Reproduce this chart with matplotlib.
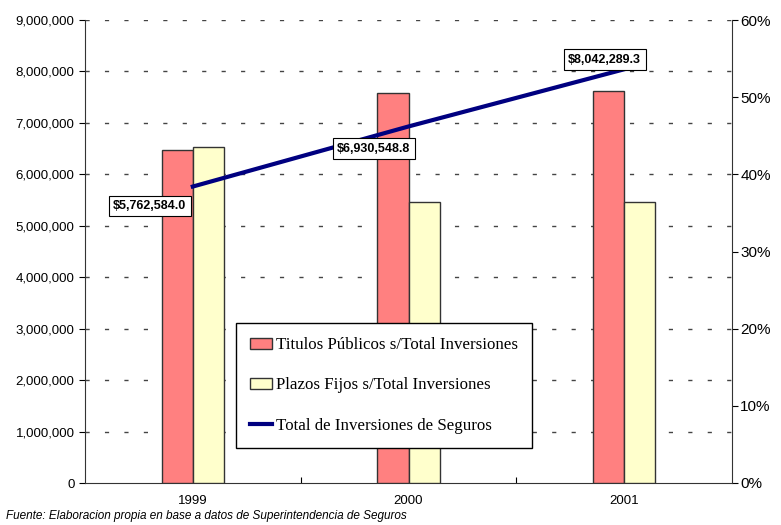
import matplotlib
matplotlib.use("Agg")
import matplotlib.pyplot as plt
import numpy as np
from matplotlib.patches import Patch
from matplotlib.lines import Line2D
from matplotlib.ticker import FuncFormatter

years = ["1999", "2000", "2001"]
titulos_pct = [43.2, 50.6, 50.8]
plazos_pct = [43.6, 36.4, 36.4]
total_inversiones = [5762584.0, 6930548.8, 8042289.3]

RED = "#FF8080"
YELLOW = "#FFFFCC"
NAVY = "#000080"
SANS = "Liberation Sans"
SERIF = "Liberation Serif"

fig = plt.figure(figsize=(7.81, 5.25), dpi=100)
rect = [0.1088, 0.080, 0.8285, 0.8819]

# bars on the percentage (right) axis
ax_bar = fig.add_axes(rect)
x = np.arange(len(years))
w = 0.145
ax_bar.bar(x - w / 2, titulos_pct, w, color=RED, edgecolor="#333333",
           linewidth=1, zorder=3)
ax_bar.bar(x + w / 2, plazos_pct, w, color=YELLOW, edgecolor="#333333",
           linewidth=1, zorder=3)
ax_bar.set_ylim(0, 60)
ax_bar.set_xlim(-0.5, 2.5)
ax_bar.yaxis.tick_right()
ax_bar.set_yticks(np.arange(0, 61, 10))
ax_bar.yaxis.set_major_formatter(FuncFormatter(lambda v, p: f"{v:.0f}%"))
ax_bar.tick_params(axis="y", labelsize=11, length=4, direction="out",
                   pad=2)
for lab in ax_bar.get_yticklabels():
    lab.set_family(SANS)

# gridlines follow the left axis millions, drawn under the bars
grid_millions = np.arange(1, 10) * 1e6
ax_bar.hlines(grid_millions * 60 / 9e6, -0.5, 2.5, colors="#444444",
              linewidth=1, linestyles=(0, (3, 11)), zorder=1)

ax_bar.set_xticks([0.5, 1.5])
ax_bar.set_xticklabels([])
ax_bar.tick_params(axis="x", direction="in", length=4)
for s in ("top", "left"):
    ax_bar.spines[s].set_visible(False)
ax_bar.spines["right"].set_color("#333333")
ax_bar.spines["bottom"].set_color("#333333")

# total investments on the left axis, drawn on top
ax_line = fig.add_axes(rect, sharex=ax_bar)
ax_line.patch.set_visible(False)
ax_line.plot(x, total_inversiones, color=NAVY, linewidth=3, zorder=4)
ax_line.set_ylim(0, 9e6)
ax_line.set_yticks(np.arange(0, 9e6 + 1, 1e6))
ax_line.yaxis.set_major_formatter(FuncFormatter(lambda v, p: f"{v:,.0f}"))
ax_line.tick_params(axis="y", labelsize=9.5, length=4, direction="out")
for lab in ax_line.get_yticklabels():
    lab.set_family(SANS)
for s in ("top", "right", "bottom"):
    ax_line.spines[s].set_visible(False)
ax_line.spines["left"].set_color("#333333")
ax_line.tick_params(axis="x", which="both", length=0, labelbottom=False)

for i, yr in enumerate(years):
    ax_line.annotate(yr, (i, 0), xycoords=("data", "axes fraction"),
                     xytext=(0, -9), textcoords="offset points",
                     ha="center", va="top", fontsize=9.5, family=SANS)

offsets = [(-31, -14), (-25, -16), (-14, 7)]
for i, (val, off) in enumerate(zip(total_inversiones, offsets)):
    ax_line.annotate(f"${val:,.1f}", (i, val), xytext=off,
                     textcoords="offset points", ha="center", va="center",
                     fontsize=9, fontweight="bold", family=SANS, zorder=6,
                     bbox=dict(boxstyle="square,pad=0.35", fc="white",
                               ec="black", lw=0.8))

handles = [
    Patch(facecolor=RED, edgecolor="#333333", label="Titulos Públicos s/Total Inversiones"),
    Patch(facecolor=YELLOW, edgecolor="#333333", label="Plazos Fijos s/Total Inversiones"),
    Line2D([0], [0], color=NAVY, linewidth=3, label="Total de Inversiones de Seguros"),
]
leg = fig.legend(handles=handles, loc="upper left",
                 bbox_to_anchor=(236 / 781, 1 - 323 / 525),
                 prop={"family": SERIF, "size": 12.2}, frameon=True,
                 fancybox=False, framealpha=1, borderpad=0.85,
                 labelspacing=1.42, handlelength=1.3, handleheight=0.6,
                 handletextpad=0.2, borderaxespad=0)
leg.get_frame().set_edgecolor("black")
leg.get_frame().set_linewidth(1)

fig.text(0.008, 0.006, "Fuente: Elaboracion propia en base a datos de Superintendencia de Seguros",
         fontsize=8.5, style="italic", family=SANS, ha="left", va="bottom")

fig.savefig("out.png", dpi=100)
